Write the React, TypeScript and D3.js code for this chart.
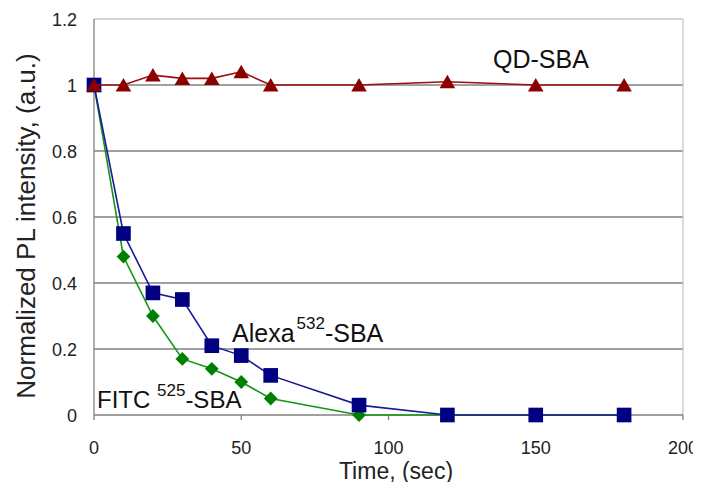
import { useEffect, useRef } from "react";
import * as d3 from "d3";

const times = [0, 10, 20, 30, 40, 50, 60, 90, 120, 150, 180];
const qdValues = [1, 1, 1.03, 1.02, 1.02, 1.04, 1, 1, 1.01, 1, 1];
const alexaValues = [1, 0.55, 0.37, 0.35, 0.21, 0.18, 0.12, 0.03, 0, 0, 0];
const fitcValues = [1, 0.48, 0.3, 0.17, 0.14, 0.1, 0.05, 0, 0, 0, 0];
const xTicks = [0, 50, 100, 150, 200];
const yTicks = [0, 0.2, 0.4, 0.6, 0.8, 1, 1.2];

export default function App() {
  const svgRef = useRef<SVGSVGElement | null>(null);

  useEffect(() => {
    if (!svgRef.current) return;
    const svg = d3.select(svgRef.current);
    svg.selectAll("*").remove();

    const width = 701;
    const height = 490;
    const m = { left: 94, right: 18, top: 19, bottom: 75 };
    const font = "Liberation Sans, Arial, sans-serif";

    svg.attr("width", width).attr("height", height);

    const x = d3.scaleLinear().domain([0, 200]).range([m.left, width - m.right]);
    const y = d3.scaleLinear().domain([0, 1.2]).range([height - m.bottom, m.top]);

    // gridlines
    svg.append("g")
      .selectAll("line")
      .data(yTicks.filter(d => d > 0 && d < 1.2))
      .enter()
      .append("line")
      .attr("x1", x(0)).attr("x2", x(200))
      .attr("y1", d => y(d)).attr("y2", d => y(d))
      .attr("stroke", "#808080").attr("stroke-width", 1.3);

    // frame top / right
    svg.append("line")
      .attr("x1", x(0)).attr("x2", x(200)).attr("y1", y(1.2)).attr("y2", y(1.2))
      .attr("stroke", "#c8c8c8").attr("stroke-width", 1.3);
    svg.append("line")
      .attr("x1", x(200)).attr("x2", x(200)).attr("y1", y(1.2)).attr("y2", y(0))
      .attr("stroke", "#c8c8c8").attr("stroke-width", 1.3);

    // axes
    svg.append("line")
      .attr("x1", x(0)).attr("x2", x(200)).attr("y1", y(0)).attr("y2", y(0))
      .attr("stroke", "#808080").attr("stroke-width", 1.3);
    svg.append("line")
      .attr("x1", x(0)).attr("x2", x(0)).attr("y1", y(1.2)).attr("y2", y(0))
      .attr("stroke", "#808080").attr("stroke-width", 1.3);

    // x tick marks
    svg.append("g")
      .selectAll("line")
      .data(xTicks)
      .enter()
      .append("line")
      .attr("x1", d => x(d)).attr("x2", d => x(d))
      .attr("y1", y(0)).attr("y2", y(0) + 5)
      .attr("stroke", "#808080").attr("stroke-width", 1.3);

    // tick labels
    svg.append("g")
      .selectAll("text")
      .data(yTicks)
      .enter()
      .append("text")
      .attr("x", x(0) - 17)
      .attr("y", d => y(d) + 7)
      .attr("text-anchor", "end")
      .style("font-family", font)
      .style("font-size", "18px")
      .style("fill", "#222")
      .text(d => (d === 0 || d === 1 ? d3.format("d")(d) : d3.format(".1f")(d)));

    svg.append("g")
      .selectAll("text")
      .data(xTicks)
      .enter()
      .append("text")
      .attr("x", d => x(d))
      .attr("y", 454)
      .attr("text-anchor", "middle")
      .style("font-family", font)
      .style("font-size", "18px")
      .style("fill", "#222")
      .text(d => d);

    // axis titles
    svg.append("text")
      .attr("x", 396)
      .attr("y", 479)
      .attr("text-anchor", "middle")
      .style("font-family", font)
      .style("font-size", "23px")
      .style("fill", "#222")
      .text("Time, (sec)");

    svg.append("text")
      .attr("transform", `translate(35,226) rotate(-90)`)
      .attr("text-anchor", "middle")
      .style("font-family", font)
      .style("font-size", "26px")
      .style("fill", "#222")
      .text("Normalized PL intensity, (a.u.)");

    const line = d3.line<[number, number]>().x(d => x(d[0])).y(d => y(d[1]));

    const series = [
      { values: fitcValues, color: "#149614", marker: "diamond", fill: "#008000" },
      { values: alexaValues, color: "#1a1a9a", marker: "square", fill: "#000080" },
      { values: qdValues, color: "#9a1010", marker: "triangle", fill: "#8b0000" },
    ];

    series.forEach(s => {
      const pts = times.map((t, i) => [t, s.values[i]] as [number, number]);
      svg.append("path")
        .attr("d", line(pts))
        .attr("fill", "none")
        .attr("stroke", s.color)
        .attr("stroke-width", 1.6);

      let sym;
      let transform: (d: [number, number]) => string;
      if (s.marker === "diamond") {
        sym = d3.symbol().type(d3.symbolSquare).size(95);
        transform = d => `translate(${x(d[0])},${y(d[1])}) rotate(45)`;
      } else if (s.marker === "square") {
        sym = d3.symbol().type(d3.symbolSquare).size(215);
        transform = d => `translate(${x(d[0])},${y(d[1])})`;
      } else {
        sym = d3.symbol().type(d3.symbolTriangle).size(105);
        transform = d => `translate(${x(d[0])},${y(d[1]) + 2})`;
      }
      svg.append("g")
        .selectAll("path")
        .data(pts)
        .enter()
        .append("path")
        .attr("d", sym)
        .attr("transform", transform)
        .attr("fill", s.fill);
    });

    // annotations
    svg.append("text")
      .attr("x", 493).attr("y", 68)
      .style("font-family", font).style("font-size", "25px").style("fill", "#111")
      .text("QD-SBA");

    const alexa = svg.append("text")
      .attr("x", 232).attr("y", 342)
      .style("font-family", font).style("font-size", "25px").style("fill", "#111");
    alexa.append("tspan").text("Alexa");
    alexa.append("tspan").attr("dx", 2).attr("dy", -13).style("font-size", "17px").text("532");
    alexa.append("tspan").attr("dy", 13).text("-SBA");

    const fitc = svg.append("text")
      .attr("x", 97).attr("y", 408)
      .style("font-family", font).style("font-size", "24px").style("fill", "#111");
    fitc.append("tspan").text("FITC ");
    fitc.append("tspan").attr("dy", -12).style("font-size", "17px").text("525");
    fitc.append("tspan").attr("dy", 12).text("-SBA");
  }, []);

  return (
    <div style={{ margin: -8, background: "#fff", width: 701, height: 490 }}>
      <svg ref={svgRef}></svg>
    </div>
  );
}
